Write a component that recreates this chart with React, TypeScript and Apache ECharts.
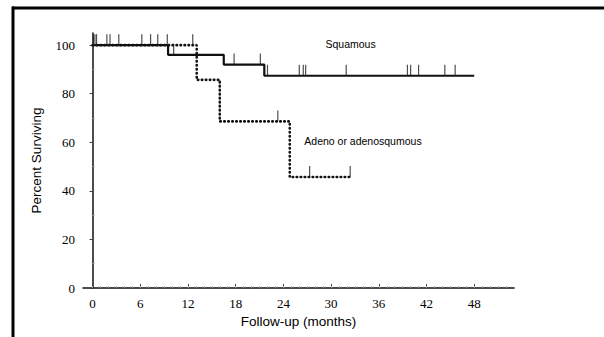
import React, { useEffect, useRef } from "react";
import * as echarts from "echarts";

const xTicks = [0, 6, 12, 18, 24, 30, 36, 42, 48];
const xMinorTicks = Array.from({ length: 53 }, (_, i) => i);
const yTicks = [0, 20, 40, 60, 80, 100];
const yMinorTicks = [10, 30, 50, 70, 90];

// Kaplan-Meier step curves: [month, percent surviving]
const squamousCurve: [number, number][] = [
  [0, 100], [9.5, 96], [16.5, 92], [21.6, 87.4], [48, 87.4],
];
const adenoCurve: [number, number][] = [
  [0, 100], [13.1, 85.7], [16.0, 68.6], [24.8, 45.7], [32.4, 45.7],
];

// censored observations
const squamousCensored: [number, number][] = [
  [0.1, 100], [0.3, 100], [0.5, 100], [1.8, 100], [2.2, 100], [3.3, 100],
  [6.2, 100], [7.3, 100], [8.2, 100], [9.4, 100],
  [10.2, 96],
  [17.8, 92], [21.1, 92],
  [22.0, 87.4], [26.0, 87.4], [26.5, 87.4], [26.8, 87.4], [31.9, 87.4],
  [39.6, 87.4], [40.0, 87.4], [41.0, 87.4], [44.3, 87.4], [45.6, 87.4],
];
const adenoCensored: [number, number][] = [
  [12.6, 100], [23.3, 68.6], [27.3, 45.7], [32.4, 45.7],
];

const serif = "'Liberation Serif', 'Times New Roman', serif";
const sans = "'Liberation Sans', Arial, sans-serif";

export default function App() {
  const ref = useRef<HTMLDivElement>(null);
  useEffect(() => {
    if (!ref.current) return;
    const chart = echarts.init(ref.current, undefined, { renderer: "svg" });
    const xMin = -1.2;
    const xMax = 53;
    chart.setOption({
      animation: false,
      backgroundColor: "#ffffff",
      grid: { left: 83, right: 90, top: 33, bottom: 49 },
      xAxis: [
        {
          type: "value",
          min: xMin,
          max: xMax,
          name: "Follow-up (months)",
          nameLocation: "middle",
          nameGap: 24,
          nameTextStyle: { fontFamily: sans, fontSize: 13.5, color: "#000" },
          axisLine: { show: true, lineStyle: { color: "#111", width: 1.5 } },
          axisTick: { show: true, inside: true, length: 4, customValues: xTicks, lineStyle: { color: "#444" } },
          axisLabel: { customValues: xTicks, fontFamily: serif, fontSize: 13, color: "#000", margin: 9 },
          splitLine: { show: false },
        },
        {
          type: "value",
          min: xMin,
          max: xMax,
          position: "bottom",
          axisLine: { show: false },
          axisTick: { show: true, inside: true, length: 2, customValues: xMinorTicks, lineStyle: { color: "#999" } },
          axisLabel: { show: false },
          splitLine: { show: false },
        },
      ],
      yAxis: [
        {
          type: "value",
          min: 0,
          max: 105,
          name: "Percent Surviving",
          nameLocation: "middle",
          nameGap: 40,
          nameRotate: 90,
          nameTextStyle: { fontFamily: sans, fontSize: 13.5, color: "#000" },
          axisLine: { show: true, lineStyle: { color: "#111", width: 1.5 } },
          axisTick: { show: true, length: 3, customValues: yTicks, lineStyle: { color: "#444" } },
          axisLabel: { customValues: yTicks, fontFamily: serif, fontSize: 13, color: "#000", margin: 8 },
          splitLine: { show: false },
        },
        {
          type: "value",
          min: 0,
          max: 105,
          position: "left",
          axisLine: { show: false },
          axisTick: { show: true, inside: true, length: 2, customValues: yMinorTicks, lineStyle: { color: "#999" } },
          axisLabel: { show: false },
          splitLine: { show: false },
        },
      ],
      series: [
        {
          name: "Adeno or adenosqumous",
          type: "line",
          step: "end",
          data: adenoCurve,
          showSymbol: false,
          lineStyle: { color: "#111", width: 2.6, type: [0.5, 3.5], cap: "round" },
          z: 3,
        },
        {
          name: "Squamous",
          type: "line",
          step: "end",
          data: squamousCurve,
          showSymbol: false,
          lineStyle: { color: "#111", width: 2.2 },
          z: 2,
        },
        {
          type: "scatter",
          data: squamousCensored,
          symbol: "rect",
          symbolSize: [1.2, 11],
          symbolOffset: [0, -5.5],
          itemStyle: { color: "#222" },
          z: 4,
        },
        {
          type: "scatter",
          data: adenoCensored,
          symbol: "rect",
          symbolSize: [1.2, 11],
          symbolOffset: [0, -5.5],
          itemStyle: { color: "#222" },
          z: 4,
        },
      ],
      graphic: [
        { type: "rect", shape: { x: 12, y: 6.5, width: 592, height: 3 }, style: { fill: "#000" } },
        { type: "rect", shape: { x: 11.5, y: 6.5, width: 3, height: 331 }, style: { fill: "#000" } },
        {
          type: "text",
          x: 325.5,
          y: 44,
          style: { text: "Squamous", fontFamily: sans, fontSize: 10.5, fill: "#000", verticalAlign: "middle" },
        },
        {
          type: "text",
          x: 304.3,
          y: 140.7,
          style: { text: "Adeno or adenosqumous", fontFamily: sans, fontSize: 10.5, fill: "#000", verticalAlign: "middle" },
        },
      ],
    });
    return () => chart.dispose();
  }, []);
  return (
    <div
      ref={ref}
      style={{ position: "fixed", left: 0, top: 0, width: 604, height: 337, background: "#fff" }}
    />
  );
}
